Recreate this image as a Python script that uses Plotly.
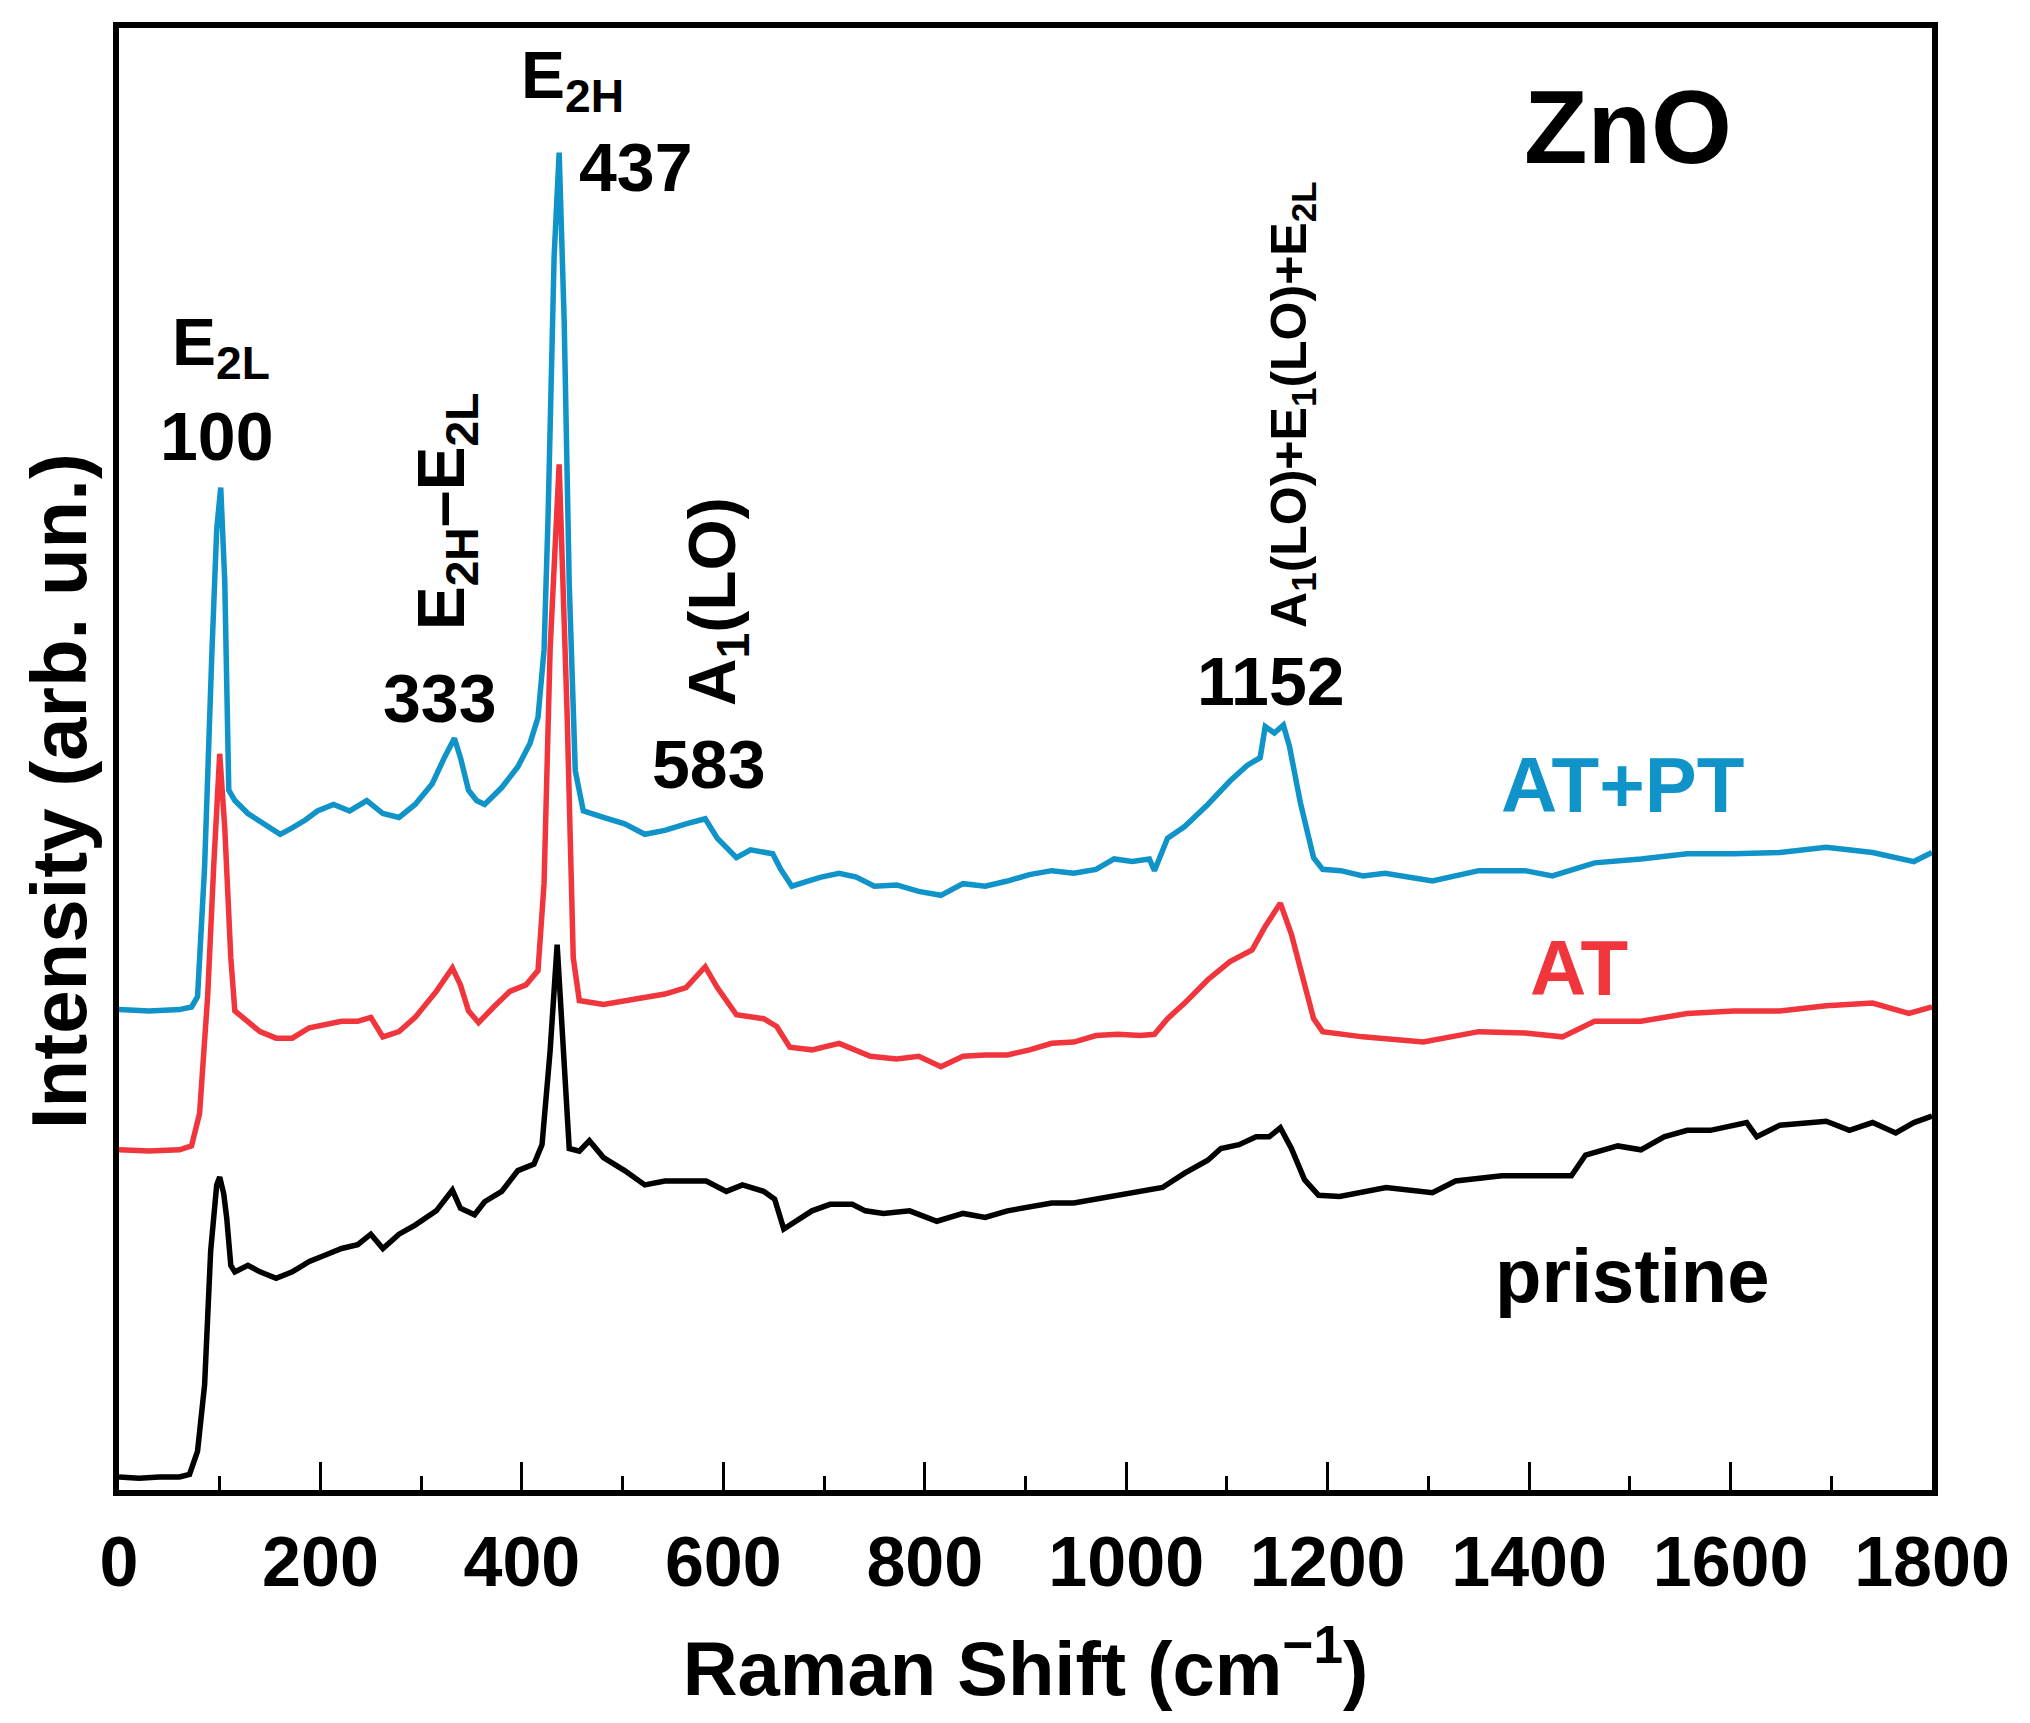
import plotly.graph_objects as go

# ---- data (intensity in arbitrary units) ----
x_pristine = [0, 20, 40, 60, 70, 78, 85, 91, 97, 100, 104, 107, 111, 115, 128, 140, 156, 172, 189, 197,
              205, 221, 237, 250, 262, 278, 294, 315, 331, 339, 353, 363, 380, 396, 412, 420, 428, 435,
              441, 447, 457, 467, 481, 502, 522, 542, 563, 583, 603, 619, 640, 651, 660, 671, 688, 706,
              728, 741, 759, 785, 812, 838, 860, 882, 904, 926, 948, 970, 992, 1014, 1036, 1058, 1081,
              1094, 1112, 1129, 1142, 1153, 1164, 1177, 1191, 1212, 1235, 1258, 1304, 1327, 1373, 1419,
              1442, 1456, 1488, 1511, 1534, 1557, 1580, 1616, 1626, 1649, 1695, 1718, 1741, 1764, 1782, 1800]
y_pristine = [10, 9, 10, 10, 12, 30, 81, 184, 235, 241, 228, 209, 173, 168, 173, 168, 163, 168, 176, 179,
              181, 186, 189, 197, 186, 197, 204, 215, 231, 217, 212, 222, 230, 246, 251, 266, 338, 420,
              338, 263, 261, 269, 256, 246, 235, 238, 238, 238, 230, 235, 230, 224, 201, 207, 215, 220,
              220, 215, 213, 215, 207, 213, 210, 215, 218, 221, 221, 224, 227, 229, 233, 244, 254,
              263, 266, 272, 272, 279, 263, 239, 227, 226, 230, 233, 229, 238, 242, 242,
              242, 258, 265, 262, 272, 277, 277, 283, 272, 281, 284, 277, 283, 275, 283, 288]

x_at = [0, 30, 60, 72, 80, 88, 94, 100, 105, 111, 115, 128, 140, 156, 172, 189, 205, 221, 237, 250,
        262, 278, 294, 315, 331, 339, 347, 357, 372, 388, 404, 416, 422, 428, 437, 445, 451, 457, 481,
        502, 522, 542, 563, 582, 594, 613, 640, 653, 666, 688, 715, 732, 746, 772, 794, 816, 838, 860,
        882, 904, 926, 948, 970, 992, 1014, 1028, 1041, 1058, 1081, 1103, 1125, 1138, 1153, 1164, 1173,
        1186, 1195, 1213, 1235, 1295, 1350, 1396, 1433, 1465, 1511, 1557, 1603, 1649, 1695, 1741, 1777, 1800]
y_at = [262, 261, 262, 265, 290, 380, 480, 567, 510, 410, 369, 361, 353, 348, 348, 356, 359, 361, 361, 364,
        349, 353, 364, 384, 402, 389, 369, 360, 372, 384, 389, 400, 467, 647, 790, 595, 410, 377, 374,
        377, 379, 382, 387, 403, 387, 366, 363, 357, 341, 339, 344, 339, 334, 332, 334, 326, 334, 335,
        335, 339, 344, 345, 350, 351, 350, 351, 363, 375, 393, 407, 416, 434, 452, 428, 401,
        363, 353, 351, 349, 345, 353, 352, 349, 361, 361, 367, 369, 369, 373, 375, 367, 372]

x_atpt = [0, 30, 60, 72, 78, 85, 92, 97, 101, 105, 109, 115, 128, 144, 160, 172, 185, 197, 213, 229,
          246, 262, 278, 294, 311, 323, 333, 339, 347, 355, 363, 380, 396, 408, 416, 422, 426, 432, 437,
          442, 447, 453, 461, 481, 502, 522, 542, 563, 582, 594, 613, 627, 649, 657, 668, 684, 697, 715,
          732, 750, 772, 794, 816, 838, 860, 882, 904, 926, 948, 970, 988, 1006, 1023, 1028, 1041, 1058,
          1081, 1103, 1120, 1133, 1138, 1147, 1156, 1162, 1173, 1186, 1195, 1213, 1235, 1257, 1304, 1350,
          1396, 1423, 1465, 1511, 1557, 1603, 1649, 1695, 1741, 1782, 1800]
y_atpt = [370, 369, 370, 372, 380, 480, 640, 740, 772, 700, 539, 531, 521, 513, 505, 510, 516, 523, 528, 523,
          531, 521, 518, 528, 544, 564, 579, 564, 539, 531, 528, 541, 557, 575, 595, 647, 750, 950, 1030,
          900, 698, 554, 523, 518, 513, 505, 508, 513, 517, 502, 487, 493, 490, 478, 465, 469, 472, 475,
          472, 465, 466, 461, 458, 467, 465, 469, 474, 477, 475, 478, 486, 484, 486, 477, 502, 511,
          528, 546, 558, 564, 588, 583, 589, 573, 529, 487, 478, 477, 473, 475, 469, 477,
          477, 473, 483, 486, 490, 490, 491, 495, 491, 484, 491]

x_ticks = [0, 200, 400, 600, 800, 1000, 1200, 1400, 1600, 1800]
x_tick_labels = ["0", "200", "400", "600", "800", "1000", "1200", "1400", "1600", "1800"]

BLUE = "#0f93c8"
RED = "#f0363c"
FONT = "Liberation Sans, Arial, sans-serif"

fig = go.Figure()
# drawing order as in the reference: blue underneath, red over it, black on top
fig.add_trace(go.Scatter(x=x_atpt, y=y_atpt, mode="lines", name="AT+PT",
                         line=dict(color=BLUE, width=5.5)))
fig.add_trace(go.Scatter(x=x_at, y=y_at, mode="lines", name="AT",
                         line=dict(color=RED, width=5.5)))
fig.add_trace(go.Scatter(x=x_pristine, y=y_pristine, mode="lines", name="pristine",
                         line=dict(color="black", width=5.5)))

def ann(text, x, y, size, color="black", angle=0):
    fig.add_annotation(x=x, y=y, xref="x", yref="y", text=text, showarrow=False,
                       textangle=angle, xanchor="center", yanchor="middle",
                       font=dict(family=FONT, size=size, color=color, weight="bold"))

ann("ZnO", 1498, 1050, 104)
ann("AT+PT", 1493, 543, 78, BLUE)
ann("AT", 1450, 402, 78, RED)
ann("pristine", 1503, 165, 76)
ann("E<sub>2L</sub>", 101, 880, 66)
ann("100", 97, 812, 68)
ann("E<sub>2H</sub>", 450, 1086, 66)
ann("437", 513, 1019, 68)
ann("333", 318, 610, 68)
ann("E<sub>2H</sub>–E<sub>2L</sub>", 325, 754, 66, angle=-90)
ann("A<sub>1</sub>(LO)", 594, 684, 66, angle=-90)
ann("583", 585, 559, 68)
ann("1152", 1144, 623, 68)
ann("A<sub>1</sub>(LO)+E<sub>1</sub>(LO)+E<sub>2L</sub>", 1165, 836, 50, angle=-90)

# y-axis title placed as a rotated paper annotation (sits slightly below the axis centre)
fig.add_annotation(x=0, y=0.478, xref="paper", yref="paper", xshift=-60,
                   text="Intensity (arb. un.)", showarrow=False, textangle=-90,
                   xanchor="center", yanchor="middle",
                   font=dict(family=FONT, size=78, color="black", weight="bold"))

fig.update_layout(
    width=2014, height=1707,
    margin=dict(l=111, r=81, t=20, b=225),
    paper_bgcolor="white", plot_bgcolor="white",
    showlegend=False,
    font=dict(family=FONT, color="black"),
)
fig.update_xaxes(
    range=[0, 1800], tickmode="array", tickvals=x_ticks, ticktext=x_tick_labels,
    ticks="inside", ticklen=28, tickwidth=3, tickcolor="black",
    minor=dict(dtick=100, tick0=0, ticks="inside", ticklen=14, tickwidth=3, tickcolor="black"),
    ticklabelstandoff=6,
    tickfont=dict(family=FONT, size=70, weight="bold"),
    showline=True, linewidth=6, linecolor="black", mirror=True,
    showgrid=False, zeroline=False,
    title=dict(text="Raman Shift (cm<sup>−1</sup>)", standoff=44,
               font=dict(family=FONT, size=76, weight="bold")),
)
fig.update_yaxes(
    range=[0, 1126], showticklabels=False, ticks="",
    showline=True, linewidth=6, linecolor="black", mirror=True,
    showgrid=False, zeroline=False,
)

fig.write_html("out.html")
